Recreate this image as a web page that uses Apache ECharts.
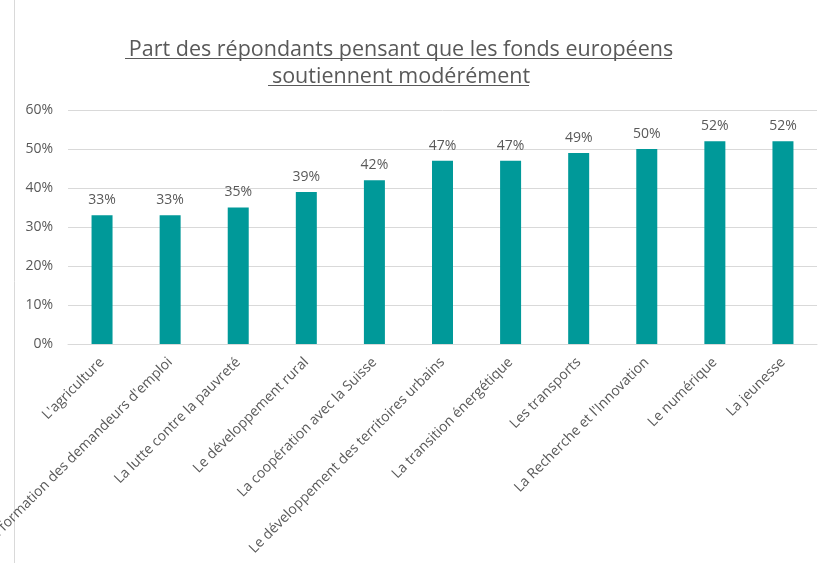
<!DOCTYPE html>
<html>
<head>
<meta charset="utf-8">
<script src="https://cdn.jsdelivr.net/npm/echarts@6/dist/echarts.min.js"></script>
<style>
html, body { margin: 0; padding: 0; background: #fff; }
#myChart { width: 833px; height: 563px; }
</style>
</head>
<body>
<div id="myChart"></div>
<script>
// données
let categories = ["L'agriculture", "La formation des demandeurs d'emploi", "La lutte contre la pauvreté",
    "Le développement rural", "La coopération avec la Suisse", "Le développement des territoires urbains",
    "La transition énergétique", "Les transports", "La Recherche et l'Innovation", "Le numérique", "La jeunesse"]
let values = [33, 33, 35, 39, 42, 47, 47, 49, 50, 52, 52]
let yTicks = [0, 10, 20, 30, 40, 50, 60]

let myChart = echarts.init(document.getElementById('myChart'))
let textColor = '#595959'
let font = 'Open Sans'

let option = {
    animation: false,
    textStyle: { fontFamily: font },
    title: {
        text: 'Part des répondants pensant que les fonds européens\nsoutiennent modérément',
        left: 396,
        textAlign: 'center',
        top: 31,
        textStyle: {
            color: textColor,
            fontSize: 21.5,
            fontWeight: 'normal',
            fontFamily: font,
            lineHeight: 27
        }
    },
    graphic: [
        // cadre gauche
        { type: 'line', shape: { x1: 14.5, y1: 0, x2: 14.5, y2: 563 }, style: { stroke: '#d9d9d9', lineWidth: 1 } },
        // soulignement du titre
        { type: 'line', shape: { x1: 125, y1: 58.5, x2: 672, y2: 58.5 }, style: { stroke: textColor, lineWidth: 1 } },
        { type: 'line', shape: { x1: 268, y1: 85.5, x2: 529, y2: 85.5 }, style: { stroke: textColor, lineWidth: 1 } }
    ],
    grid: {
        left: 68,
        right: 16,
        top: 110,
        bottom: 219,
        containLabel: false,
        outerBoundsMode: 'none'
    },
    xAxis: {
        type: 'category',
        data: categories,
        axisTick: { show: false },
        axisLine: { lineStyle: { color: '#d9d9d9' } },
        axisLabel: {
            rotate: 45,
            interval: 0,
            color: textColor,
            fontSize: 14,
            margin: 16
        }
    },
    yAxis: {
        type: 'value',
        min: yTicks[0],
        max: yTicks[yTicks.length - 1],
        interval: 10,
        axisLabel: {
            color: textColor,
            fontSize: 14,
            margin: 15,
            formatter: '{value}%'
        },
        splitLine: { lineStyle: { color: '#d9d9d9' } },
        axisLine: { show: false },
        axisTick: { show: false }
    },
    series: [
        {
            type: 'bar',
            data: values,
            barWidth: 21,
            itemStyle: { color: '#009999' },
            label: {
                show: true,
                position: 'top',
                distance: 8,
                color: textColor,
                fontSize: 14,
                formatter: '{c}%'
            }
        }
    ]
}
myChart.setOption(option)

window.addEventListener('resize', () => {
    myChart.resize()
})
</script>
</body>
</html>
